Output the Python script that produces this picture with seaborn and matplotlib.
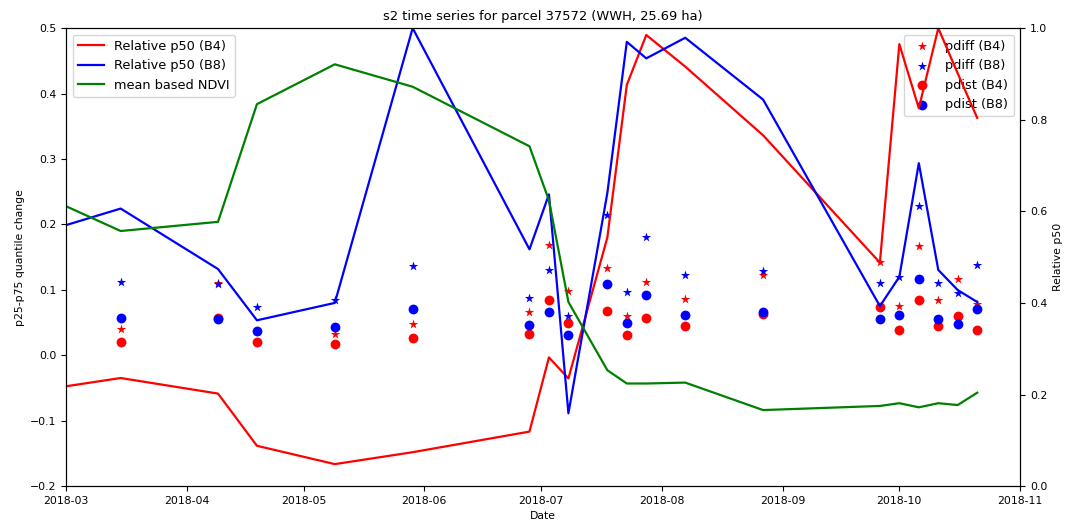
import pandas as pd
import numpy as np
import seaborn as sns
import matplotlib
matplotlib.use("Agg")
import matplotlib.pyplot as plt
import matplotlib.dates as mdates

# acquisition dates (first one has only the line values)
dates = ["2018-03-01", "2018-03-15", "2018-04-09", "2018-04-19", "2018-05-09",
         "2018-05-29", "2018-06-28", "2018-07-03", "2018-07-08", "2018-07-18",
         "2018-07-23", "2018-07-28", "2018-08-07", "2018-08-27", "2018-09-26",
         "2018-10-01", "2018-10-06", "2018-10-11", "2018-10-16", "2018-10-21"]

# right axis: relative p50 and ndvi
rel_p50_b4 = [0.218, 0.236, 0.202, 0.088, 0.048, 0.074, 0.119, 0.281, 0.235, 0.543,
              0.876, 0.985, 0.916, 0.766, 0.488, 0.965, 0.825, 1.0, 0.901, 0.804]
rel_p50_b8 = [0.570, 0.606, 0.474, 0.362, 0.400, 1.0, 0.517, 0.637, 0.159, 0.640,
              0.970, 0.934, 0.979, 0.844, 0.393, 0.457, 0.705, 0.472, 0.428, 0.402]
ndvi = [0.611, 0.557, 0.577, 0.834, 0.921, 0.872, 0.742, 0.624, 0.402, 0.253,
        0.224, 0.224, 0.226, 0.166, 0.175, 0.181, 0.172, 0.181, 0.177, 0.204]

# left axis: quantile change per date (from 2018-03-15 on)
pdiff_b4 = [0.040, 0.111, 0.037, 0.032, 0.048, 0.066, 0.168, 0.098, 0.134, 0.060,
            0.112, 0.086, 0.122, 0.142, 0.076, 0.167, 0.084, 0.117, 0.079]
pdiff_b8 = [0.112, 0.109, 0.073, 0.085, 0.136, 0.088, 0.131, 0.060, 0.214, 0.097,
            0.181, 0.123, 0.129, 0.111, 0.120, 0.228, 0.111, 0.095, 0.138]
pdist_b4 = [0.020, 0.057, 0.020, 0.017, 0.026, 0.033, 0.085, 0.050, 0.068, 0.031,
            0.057, 0.044, 0.063, 0.074, 0.039, 0.084, 0.044, 0.060, 0.039]
pdist_b8 = [0.057, 0.056, 0.037, 0.043, 0.070, 0.046, 0.066, 0.031, 0.109, 0.049,
            0.092, 0.062, 0.066, 0.056, 0.061, 0.116, 0.056, 0.048, 0.070]

plt.rcParams['font.size'] = 7.8
plt.rcParams['legend.fontsize'] = 9.3

dt = pd.to_datetime(dates)
pt_dt = dt[1:]

fig, ax1 = plt.subplots(figsize=(10.67, 5.21), dpi=100)
ax2 = ax1.twinx()

##### points on the left axis
sns.scatterplot(x=pt_dt, y=pdiff_b4, marker='*', color='red', s=50, linewidth=0, label='pdiff (B4)', ax=ax1)
sns.scatterplot(x=pt_dt, y=pdiff_b8, marker='*', color='blue', s=50, linewidth=0, label='pdiff (B8)', ax=ax1)
sns.scatterplot(x=pt_dt, y=pdist_b4, marker='o', color='red', s=50, linewidth=0, label='pdist (B4)', ax=ax1)
sns.scatterplot(x=pt_dt, y=pdist_b8, marker='o', color='blue', s=50, linewidth=0, label='pdist (B8)', ax=ax1)
ax1.legend(loc='upper right')

##### lines on the right axis
sns.lineplot(x=dt, y=rel_p50_b4, color='red', lw=1.6, label='Relative p50 (B4)', ax=ax2)
sns.lineplot(x=dt, y=rel_p50_b8, color='blue', lw=1.6, label='Relative p50 (B8)', ax=ax2)
sns.lineplot(x=dt, y=ndvi, color='green', lw=1.6, label='mean based NDVI', ax=ax2)
ax2.legend(loc='upper left')

ax1.set_xlim(pd.Timestamp("2018-03-01"), pd.Timestamp("2018-11-01"))
ax1.set_ylim(-0.2, 0.5)
ax2.set_ylim(0, 1)
ax1.xaxis.set_major_locator(mdates.MonthLocator())
ax1.xaxis.set_major_formatter(mdates.DateFormatter('%Y-%m'))

ax1.set_xlabel("Date")
ax1.set_ylabel("p25-p75 quantile change")
ax2.set_ylabel("Relative p50")
ax1.set_title("s2 time series for parcel 37572 (WWH, 25.69 ha)", fontsize=9.4)

plt.subplots_adjust(left=0.062, right=0.956, top=0.946, bottom=0.067)
plt.savefig("out.png", dpi=100)
